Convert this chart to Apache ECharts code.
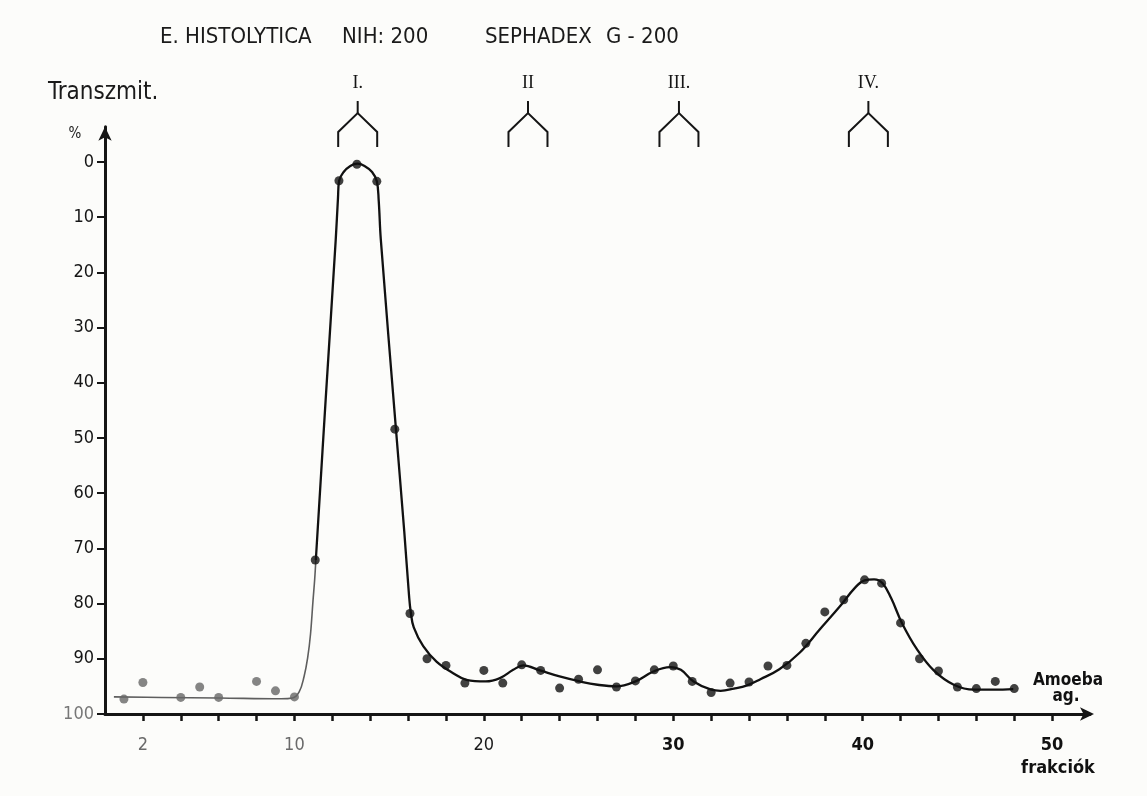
<!DOCTYPE html>
<html>
<head>
<meta charset="utf-8">
<script src="https://cdn.jsdelivr.net/npm/echarts@6/dist/echarts.min.js"></script>
<style>
html,body{margin:0;padding:0;background:#fcfcfa;}
#c{width:1147px;height:796px;}
</style>
</head>
<body>
<div id="c"></div>
<script>
// ---- data ----
var fractionX = [1, 2, 4, 5, 6, 8, 9, 10, 11.1, 12.35, 13.3, 14.35, 15.3, 16.1, 17, 18, 19, 20, 21, 22, 23, 24, 25, 26, 27, 28, 29, 30, 31, 32, 33, 34, 35, 36, 37, 38, 39, 40.1, 41, 42, 43, 44, 45, 46, 47, 48];
var transmission = [97.3, 94.3, 97.0, 95.1, 97.0, 94.1, 95.8, 96.9, 72.1, 3.4, 0.4, 3.5, 48.4, 81.8, 90.0, 91.2, 94.4, 92.1, 94.4, 91.1, 92.1, 95.3, 93.7, 92.0, 95.1, 94.0, 92.0, 91.3, 94.1, 96.1, 94.4, 94.2, 91.3, 91.2, 87.2, 81.5, 79.3, 75.7, 76.3, 83.5, 90.0, 92.2, 95.1, 95.4, 94.1, 95.4];

// hand-drawn fitted curve (grey early part, black main part)
var fitGrayX = [0.47, 3, 6, 9.3, 9.9, 10.25, 10.51, 10.7, 10.85, 10.98, 11.07, 11.13];
var fitGrayY = [96.9, 97.0, 97.1, 97.25, 97.1, 96.0, 93.2, 89.8, 85.5, 79.5, 75.6, 72.1];
var fitX = [11.13, 11.65, 12.18, 12.3, 12.36, 12.6, 12.95, 13.33, 13.7, 14.1, 14.35, 14.45, 14.56, 15.36, 15.8, 16.05, 16.14, 16.3, 16.8, 17.5, 18.38, 19.08, 20.1, 20.85, 21.55, 22.08, 22.96, 24.0, 25.07, 26.0, 27.0, 28.0, 28.95, 29.83, 30.4, 31.07, 32.0, 32.5, 33.2, 33.9, 34.6, 35.6, 36.67, 37.73, 38.8, 39.6, 40.1, 40.6, 41.05, 41.5, 42.07, 42.87, 43.75, 44.81, 45.88, 46.94, 47.95];
var fitY = [72.1, 43, 14.1, 6.5, 3.4, 1.8, 0.7, 0.3, 0.7, 1.8, 3.5, 7, 14, 48.4, 67, 78.5, 81.5, 84.3, 87.7, 90.5, 92.6, 93.8, 94.1, 93.5, 92.0, 91.2, 92.1, 93.2, 94.1, 94.7, 95.0, 94.1, 92.3, 91.5, 92.0, 94.1, 95.6, 95.8, 95.4, 94.8, 93.7, 91.9, 88.9, 84.7, 80.5, 77.1, 75.8, 75.6, 76.3, 79.0, 83.5, 88.3, 92.1, 94.7, 95.6, 95.6, 95.5];

// peak markers
var peakX = [13.34, 22.33, 30.3, 40.3];
var peakLabels = ['I.', 'II', 'III.', 'IV.'];

// axis ticks / labels
var xTicks = [2, 4, 6, 8, 10, 12, 14, 16, 18, 20, 22, 24, 26, 28, 30, 32, 34, 36, 38, 40, 42, 44, 46, 48, 50];
var xLabels = [2, 10, 20, 30, 40, 50];
var yTicks = [0, 10, 20, 30, 40, 50, 60, 70, 80, 90, 100];

function zip(a, b) { return a.map(function (v, i) { return [v, b[i]]; }); }

var FONT = '"DejaVu Sans Condensed", "DejaVu Sans", sans-serif';

var chart = echarts.init(document.getElementById('c'));
var option = {
  backgroundColor: '#fcfcfa',
  animation: false,
  grid: { left: 105, right: 57, top: 126.7, bottom: 82, containLabel: false },
  xAxis: {
    type: 'value', min: 0, max: 52, position: 'bottom',
    axisLine: { show: true, onZero: false, lineStyle: { color: '#151515', width: 3 }, symbol: ['none', 'arrow'], symbolSize: [10, 14], symbolOffset: [0, 4] },
    axisTick: { show: true, customValues: xTicks, length: 7, lineStyle: { color: '#151515', width: 2.5 } },
    axisLabel: {
      customValues: xLabels, margin: 22, fontFamily: FONT, fontSize: 18,
      formatter: function (v) { return (v <= 10) ? '{l|' + v + '}' : (v === 20 ? '{m|' + v + '}' : '{b|' + v + '}'); },
      rich: {
        l: { color: '#6a6a6a', fontFamily: FONT, fontSize: 18, fontWeight: 'normal' },
        m: { color: '#1a1a1a', fontFamily: FONT, fontSize: 18 },
        b: { color: '#111', fontFamily: FONT, fontSize: 18, fontWeight: 'bold' }
      }
    },
    splitLine: { show: false }
  },
  yAxis: {
    type: 'value', inverse: true, min: -6.4, max: 100,
    axisLine: { show: true, onZero: false, lineStyle: { color: '#151515', width: 3 }, symbol: ['none', 'arrow'], symbolSize: [10, 14] },
    axisTick: { show: true, customValues: yTicks, length: 8, lineStyle: { color: '#151515', width: 2 } },
    axisLabel: {
      customValues: yTicks, margin: 11, fontFamily: FONT, fontSize: 18, color: '#151515',
      formatter: function (v) { return v === 100 ? '{g|100}' : String(v); },
      rich: { g: { color: '#777', fontFamily: FONT, fontSize: 18 } }
    },
    splitLine: { show: false }
  },
  series: [
    {
      type: 'line', data: zip(fitGrayX, fitGrayY), smooth: 0.4,
      symbol: 'none', lineStyle: { color: '#5e5e5e', width: 1.6 }, z: 2
    },
    {
      type: 'line', data: zip(fitX, fitY), smooth: 0.4,
      symbol: 'none', lineStyle: { color: '#111', width: 2.3 }, z: 2
    },
    {
      type: 'scatter', data: zip(fractionX, transmission), symbolSize: 9, z: 3,
      itemStyle: { color: function (p) { return p.value[0] <= 10.5 ? '#666' : '#111'; } }
    },
    {
      type: 'custom', clip: false, z: 4,
      data: peakX.map(function (x, i) { return [x, i]; }),
      renderItem: function (params, api) {
        var p = api.coord([api.value(0), 0]);
        var x = p[0], y0 = p[1];
        var w = 19.5;
        return {
          type: 'group',
          children: [
            { type: 'polyline', shape: { points: [[x - w, y0 - 15], [x - w, y0 - 30], [x, y0 - 49], [x + w, y0 - 30], [x + w, y0 - 15]] },
              style: { stroke: '#151515', lineWidth: 2, fill: null } },
            { type: 'line', shape: { x1: x, y1: y0 - 61, x2: x, y2: y0 - 49 }, style: { stroke: '#151515', lineWidth: 2 } },
            { type: 'text', x: x, y: y0 - 79,
              style: { text: peakLabels[api.value(1)], font: '18px "Liberation Serif", "DejaVu Serif", serif', fill: '#151515', align: 'center', verticalAlign: 'middle', textAlign: 'center', textVerticalAlign: 'middle' } }
          ]
        };
      }
    }
  ],
  graphic: [
    { type: 'text', x: 160, y: 37, style: { text: 'E. HISTOLYTICA', font: '22px ' + FONT, fill: '#1a1a1a', verticalAlign: 'middle', textVerticalAlign: 'middle' } },
    { type: 'text', x: 342, y: 37, style: { text: 'NIH: 200', font: '22px ' + FONT, fill: '#1a1a1a', verticalAlign: 'middle', textVerticalAlign: 'middle' } },
    { type: 'text', x: 485, y: 37, style: { text: 'SEPHADEX', font: '22px ' + FONT, fill: '#1a1a1a', verticalAlign: 'middle', textVerticalAlign: 'middle' } },
    { type: 'text', x: 606, y: 37, style: { text: 'G - 200', font: '22px ' + FONT, fill: '#1a1a1a', verticalAlign: 'middle', textVerticalAlign: 'middle' } },
    { type: 'text', x: 48, y: 93, style: { text: 'Transzmit.', font: '24px ' + FONT, fill: '#1a1a1a', verticalAlign: 'middle', textVerticalAlign: 'middle' } },
    { type: 'text', x: 75, y: 134, style: { text: '%', font: '15px ' + FONT, fill: '#1a1a1a', align: 'center', textAlign: 'center', verticalAlign: 'middle', textVerticalAlign: 'middle' } },
    { type: 'text', x: 1068, y: 681, style: { text: 'Amoeba', font: 'bold 17px ' + FONT, fill: '#111', align: 'center', textAlign: 'center', verticalAlign: 'middle', textVerticalAlign: 'middle' } },
    { type: 'text', x: 1066, y: 697, style: { text: 'ag.', font: 'bold 17px ' + FONT, fill: '#111', align: 'center', textAlign: 'center', verticalAlign: 'middle', textVerticalAlign: 'middle' } },
    { type: 'text', x: 1058, y: 768, style: { text: 'frakciók', font: 'bold 18px ' + FONT, fill: '#111', align: 'center', textAlign: 'center', verticalAlign: 'middle', textVerticalAlign: 'middle' } }
  ]
};
chart.setOption(option);
</script>
</body>
</html>
